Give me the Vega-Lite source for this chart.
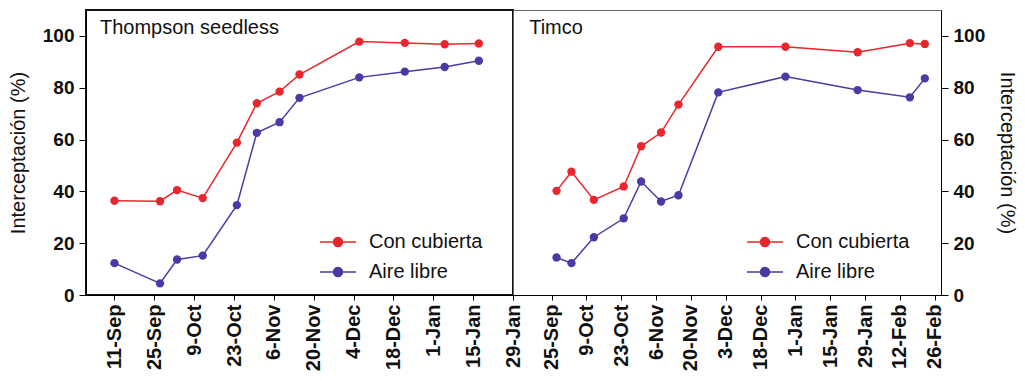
{
  "$schema": "https://vega.github.io/schema/vega-lite/v6.json",
  "background": "white",
  "padding": {"left": 7, "top": 9, "right": 0, "bottom": 0},
  "bounds": "flush",
  "spacing": 0,
  "datasets": {
    "thompson": [
      {"fecha": "2012/09/11", "serie": "Con cubierta", "valor": 36.4},
      {"fecha": "2012/09/27", "serie": "Con cubierta", "valor": 36.2},
      {"fecha": "2012/10/03", "serie": "Con cubierta", "valor": 40.5},
      {"fecha": "2012/10/12", "serie": "Con cubierta", "valor": 37.4},
      {"fecha": "2012/10/24", "serie": "Con cubierta", "valor": 58.8},
      {"fecha": "2012/10/31", "serie": "Con cubierta", "valor": 74.0},
      {"fecha": "2012/11/08", "serie": "Con cubierta", "valor": 78.5},
      {"fecha": "2012/11/15", "serie": "Con cubierta", "valor": 85.1},
      {"fecha": "2012/12/06", "serie": "Con cubierta", "valor": 97.8},
      {"fecha": "2012/12/22", "serie": "Con cubierta", "valor": 97.3},
      {"fecha": "2013/01/05", "serie": "Con cubierta", "valor": 96.8},
      {"fecha": "2013/01/17", "serie": "Con cubierta", "valor": 97.1},
      {"fecha": "2012/09/11", "serie": "Aire libre", "valor": 12.3},
      {"fecha": "2012/09/27", "serie": "Aire libre", "valor": 4.5},
      {"fecha": "2012/10/03", "serie": "Aire libre", "valor": 13.7},
      {"fecha": "2012/10/12", "serie": "Aire libre", "valor": 15.2},
      {"fecha": "2012/10/24", "serie": "Aire libre", "valor": 34.7},
      {"fecha": "2012/10/31", "serie": "Aire libre", "valor": 62.6},
      {"fecha": "2012/11/08", "serie": "Aire libre", "valor": 66.7},
      {"fecha": "2012/11/15", "serie": "Aire libre", "valor": 76.1},
      {"fecha": "2012/12/06", "serie": "Aire libre", "valor": 84.0},
      {"fecha": "2012/12/22", "serie": "Aire libre", "valor": 86.2},
      {"fecha": "2013/01/05", "serie": "Aire libre", "valor": 88.0},
      {"fecha": "2013/01/17", "serie": "Aire libre", "valor": 90.4}
    ],
    "timco": [
      {"fecha": "2012/09/27", "serie": "Con cubierta", "valor": 40.2},
      {"fecha": "2012/10/03", "serie": "Con cubierta", "valor": 47.6},
      {"fecha": "2012/10/12", "serie": "Con cubierta", "valor": 36.7},
      {"fecha": "2012/10/24", "serie": "Con cubierta", "valor": 41.9},
      {"fecha": "2012/10/31", "serie": "Con cubierta", "valor": 57.4},
      {"fecha": "2012/11/08", "serie": "Con cubierta", "valor": 62.7},
      {"fecha": "2012/11/15", "serie": "Con cubierta", "valor": 73.5},
      {"fecha": "2012/12/01", "serie": "Con cubierta", "valor": 95.8},
      {"fecha": "2012/12/28", "serie": "Con cubierta", "valor": 95.8},
      {"fecha": "2013/01/26", "serie": "Con cubierta", "valor": 93.7},
      {"fecha": "2013/02/16", "serie": "Con cubierta", "valor": 97.2},
      {"fecha": "2013/02/22", "serie": "Con cubierta", "valor": 96.9},
      {"fecha": "2012/09/27", "serie": "Aire libre", "valor": 14.5},
      {"fecha": "2012/10/03", "serie": "Aire libre", "valor": 12.3},
      {"fecha": "2012/10/12", "serie": "Aire libre", "valor": 22.3},
      {"fecha": "2012/10/24", "serie": "Aire libre", "valor": 29.6},
      {"fecha": "2012/10/31", "serie": "Aire libre", "valor": 43.8},
      {"fecha": "2012/11/08", "serie": "Aire libre", "valor": 36.1},
      {"fecha": "2012/11/15", "serie": "Aire libre", "valor": 38.5},
      {"fecha": "2012/12/01", "serie": "Aire libre", "valor": 78.2},
      {"fecha": "2012/12/28", "serie": "Aire libre", "valor": 84.3},
      {"fecha": "2013/01/26", "serie": "Aire libre", "valor": 79.1},
      {"fecha": "2013/02/16", "serie": "Aire libre", "valor": 76.3},
      {"fecha": "2013/02/22", "serie": "Aire libre", "valor": 83.6}
    ]
  },
  "hconcat": [
    {
      "data": {"name": "thompson"},
      "width": 427,
      "height": 285,
      "view": {"stroke": "#111111", "strokeWidth": 2},
      "encoding": {
        "x": {
          "field": "fecha", "type": "temporal",
          "scale": {"domain": [{"year": 2012, "month": 9, "date": 1}, {"year": 2013, "month": 1, "date": 29}], "nice": false},
          "axis": {
            "title": null, "format": "%-d-%b", "labelAngle": -90, "labelAlign": "right", "labelBaseline": "middle",
            "values": [
              {"year": 2012, "month": 9, "date": 11}, {"year": 2012, "month": 9, "date": 25},
              {"year": 2012, "month": 10, "date": 9}, {"year": 2012, "month": 10, "date": 23},
              {"year": 2012, "month": 11, "date": 6}, {"year": 2012, "month": 11, "date": 20},
              {"year": 2012, "month": 12, "date": 4}, {"year": 2012, "month": 12, "date": 18},
              {"year": 2013, "month": 1, "date": 1}, {"year": 2013, "month": 1, "date": 15},
              {"year": 2013, "month": 1, "date": 29}
            ],
            "tickSize": 5, "labelPadding": 4, "labelFontSize": 20, "labelFontWeight": "bold", "labelOverlap": false, "labelBound": false, "labelFlush": false
          }
        },
        "y": {
          "field": "valor", "type": "quantitative",
          "scale": {"domain": [0, 110], "nice": false},
          "axis": {"title": "Interceptación (%)", "values": [0, 20, 40, 60, 80, 100], "tickSize": 7, "labelPadding": 5, "labelFontSize": 19, "labelFontWeight": "bold", "titleFontSize": 20, "titleFontWeight": "normal", "titlePadding": 14}
        }
      },
      "layer": [
        {
          "data": {"values": [{"panel": "Thompson seedless", "fecha": "2012/09/05 22:00", "valor": 100.7}]},
          "mark": {"type": "text", "align": "left", "baseline": "alphabetic", "fontSize": 20, "font": "Liberation Sans", "color": "#111111"},
          "encoding": {"text": {"field": "panel", "type": "nominal"}}
        },
        {
          "mark": {"type": "line", "strokeWidth": 1.5},
          "encoding": {
            "color": {
              "field": "serie", "type": "nominal",
              "scale": {"domain": ["Con cubierta", "Aire libre"], "range": ["#e8262d", "#4b3aa5"]},
              "legend": {"title": null, "orient": "none", "legendX": 241, "legendY": 221, "padding": 0,
                "symbolType": "M-1.8,0H1.8M0.45,0A0.45,0.45 0 1,1 -0.45,0A0.45,0.45 0 1,1 0.45,0Z",
                "symbolSize": 400, "symbolStrokeWidth": 1.5, "labelOffset": 20, "rowPadding": 9,
                "labelFontSize": 20, "labelFont": "Liberation Sans", "labelColor": "#111111"}
            }
          }
        },
        {
          "mark": {"type": "point", "filled": true, "size": 70, "opacity": 1},
          "encoding": {
            "color": {
              "field": "serie", "type": "nominal",
              "scale": {"domain": ["Con cubierta", "Aire libre"], "range": ["#e8262d", "#4b3aa5"]},
              "legend": {"title": null, "orient": "none", "legendX": 241, "legendY": 221, "padding": 0,
                "symbolType": "M-1.8,0H1.8M0.45,0A0.45,0.45 0 1,1 -0.45,0A0.45,0.45 0 1,1 0.45,0Z",
                "symbolSize": 400, "symbolStrokeWidth": 1.5, "labelOffset": 20, "rowPadding": 9,
                "labelFontSize": 20, "labelFont": "Liberation Sans", "labelColor": "#111111"}
            }
          }
        }
      ]
    },
    {
      "data": {"name": "timco"},
      "width": 428,
      "height": 285,
      "view": {"stroke": "#666666", "strokeWidth": 1},
      "encoding": {
        "x": {
          "field": "fecha", "type": "temporal",
          "scale": {"domain": [{"year": 2012, "month": 9, "date": 9, "hours": 12}, {"year": 2013, "month": 2, "date": 28, "hours": 12}], "nice": false},
          "axis": {
            "title": null, "format": "%-d-%b", "labelAngle": -90, "labelAlign": "right", "labelBaseline": "middle",
            "labelExpr": "datum.label == '4-Dec' ? '3-Dec' : datum.label",
            "values": [
              {"year": 2012, "month": 9, "date": 25},
              {"year": 2012, "month": 10, "date": 9}, {"year": 2012, "month": 10, "date": 23},
              {"year": 2012, "month": 11, "date": 6}, {"year": 2012, "month": 11, "date": 20},
              {"year": 2012, "month": 12, "date": 4}, {"year": 2012, "month": 12, "date": 18},
              {"year": 2013, "month": 1, "date": 1}, {"year": 2013, "month": 1, "date": 15},
              {"year": 2013, "month": 1, "date": 29}, {"year": 2013, "month": 2, "date": 12},
              {"year": 2013, "month": 2, "date": 26}
            ],
            "tickSize": 5, "labelPadding": 4, "labelFontSize": 20, "labelFontWeight": "bold", "labelOverlap": false, "labelBound": false, "labelFlush": false
          }
        },
        "y": {
          "field": "valor", "type": "quantitative",
          "scale": {"domain": [0, 110], "nice": false},
          "axis": {"orient": "right", "title": "Interceptación (%)", "values": [0, 20, 40, 60, 80, 100], "tickSize": 7, "labelPadding": 5, "labelFontSize": 19, "labelFontWeight": "bold", "titleFontSize": 20, "titleFontWeight": "normal", "titlePadding": 12}
        }
      },
      "layer": [
        {
          "data": {"values": [{"panel": "Timco", "fecha": "2012/09/16", "valor": 100.7}]},
          "mark": {"type": "text", "align": "left", "baseline": "alphabetic", "fontSize": 20, "font": "Liberation Sans", "color": "#111111"},
          "encoding": {"text": {"field": "panel", "type": "nominal"}}
        },
        {
          "mark": {"type": "line", "strokeWidth": 1.5},
          "encoding": {
            "color": {
              "field": "serie", "type": "nominal",
              "scale": {"domain": ["Con cubierta", "Aire libre"], "range": ["#e8262d", "#4b3aa5"]},
              "legend": {"title": null, "orient": "none", "legendX": 241, "legendY": 221, "padding": 0,
                "symbolType": "M-1.8,0H1.8M0.45,0A0.45,0.45 0 1,1 -0.45,0A0.45,0.45 0 1,1 0.45,0Z",
                "symbolSize": 400, "symbolStrokeWidth": 1.5, "labelOffset": 20, "rowPadding": 9,
                "labelFontSize": 20, "labelFont": "Liberation Sans", "labelColor": "#111111"}
            }
          }
        },
        {
          "mark": {"type": "point", "filled": true, "size": 70, "opacity": 1},
          "encoding": {
            "color": {
              "field": "serie", "type": "nominal",
              "scale": {"domain": ["Con cubierta", "Aire libre"], "range": ["#e8262d", "#4b3aa5"]},
              "legend": {"title": null, "orient": "none", "legendX": 241, "legendY": 221, "padding": 0,
                "symbolType": "M-1.8,0H1.8M0.45,0A0.45,0.45 0 1,1 -0.45,0A0.45,0.45 0 1,1 0.45,0Z",
                "symbolSize": 400, "symbolStrokeWidth": 1.5, "labelOffset": 20, "rowPadding": 9,
                "labelFontSize": 20, "labelFont": "Liberation Sans", "labelColor": "#111111"}
            }
          }
        }
      ]
    }
  ],
  "resolve": {"legend": {"color": "independent"}},
  "config": {
    "font": "Liberation Sans",
    "axis": {"labelFont": "Liberation Sans", "titleFont": "Liberation Sans", "labelColor": "#111111", "titleColor": "#111111", "domainColor": "black", "tickColor": "black", "grid": false, "domainWidth": 1, "tickWidth": 1}
  }
}
